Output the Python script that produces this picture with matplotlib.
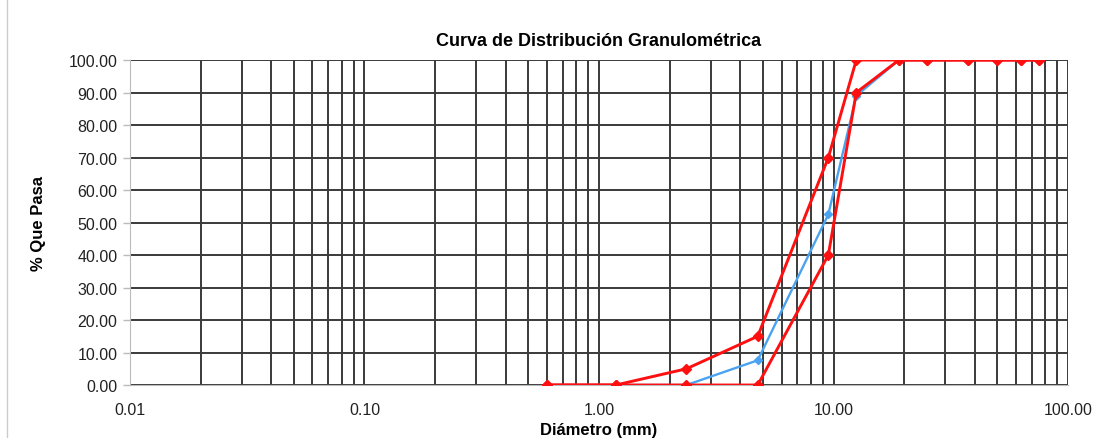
import numpy as np
import matplotlib.pyplot as plt
from matplotlib.lines import Line2D

# Tamices (mm) y % que pasa
tamiz = [0.60, 1.18, 2.36, 4.75, 9.50, 12.50, 19.00, 25.00, 37.50, 50.00, 63.00, 75.00]
muestra = [0.0, 0.0, 0.0, 7.6, 52.5, 89.0, 100.0, 100.0, 100.0, 100.0, 100.0, 100.0]
lim_sup = [0.0, 0.0, 5.0, 15.0, 70.0, 100.0, 100.0, 100.0, 100.0, 100.0, 100.0, 100.0]
lim_inf = [0.0, 0.0, 0.0, 0.0, 40.0, 90.0, 100.0, 100.0, 100.0, 100.0, 100.0, 100.0]

xticks = [0.01, 0.1, 1, 10, 100]
yticks = np.arange(0, 101, 10)

plt.rcParams['font.family'] = ['Liberation Sans', 'DejaVu Sans']

fig = plt.figure(figsize=(11.05, 4.39), dpi=100)
ax = fig.add_axes([0.1176, 0.1207, 0.849, 0.7403])

ax.set_xscale('log')
ax.set_xlim(0.01, 100)
ax.set_ylim(0, 100)

# Cuadricula
ax.grid(True, which='both', axis='x', color='#3a3a3a', lw=1.4)
ax.grid(True, which='major', axis='y', color='#3a3a3a', lw=1.4)
ax.set_axisbelow(True)

ax.plot(tamiz, muestra, color='#4aa3f0', lw=1.7, marker='D', ms=4.5, zorder=3)
ax.plot(tamiz, lim_sup, color='#ff1010', lw=2.1, marker='D', ms=5.5, zorder=4)
ax.plot(tamiz, lim_inf, color='#ff1010', lw=2.1, marker='D', ms=5.5, zorder=4)

ax.set_xticks(xticks)
ax.set_xticklabels(['%.2f' % v for v in xticks])
ax.set_yticks(yticks)
ax.set_yticklabels(['%.2f' % v for v in yticks])
ax.tick_params(axis='both', which='both', labelsize=11.5, colors='#bbbbbb', labelcolor='#222222')
ax.tick_params(axis='x', which='minor', length=0)
ax.tick_params(axis='y', length=5, width=1, pad=4)
ax.tick_params(axis='x', which='major', length=0, pad=12)

for s in ['top', 'right']:
    ax.spines[s].set_visible(False)
ax.spines['left'].set_color('#bbbbbb')
ax.spines['bottom'].set_color('#bbbbbb')

ax.set_title('Curva de Distribución Granulométrica', fontsize=13, fontweight='bold', pad=11)
ax.set_xlabel('Diámetro (mm)', fontsize=12, fontweight='bold', labelpad=4)
ax.set_ylabel('% Que Pasa', fontsize=12, fontweight='bold', labelpad=16)

# borde izquierdo de la imagen
fig.add_artist(Line2D([7 / 1105, 7 / 1105], [0, 1], color='#cccccc', lw=1))

fig.savefig('out.png', dpi=100)
